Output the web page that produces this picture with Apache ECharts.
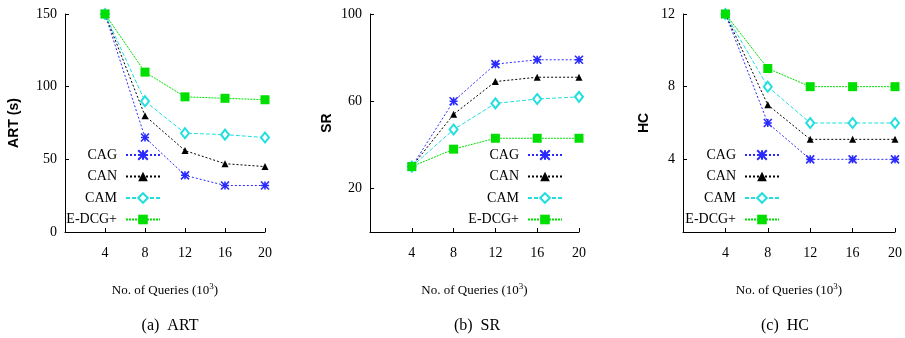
<!DOCTYPE html>
<html>
<head>
<meta charset="utf-8">
<script src="https://cdn.jsdelivr.net/npm/echarts@6/dist/echarts.min.js"></script>
<style>
  html, body { margin: 0; padding: 0; background: #fff; }
  #chart { width: 905px; height: 338px; }
</style>
</head>
<body>
<div id="chart"></div>
<script>
// x values (thousands of queries)
const queries = [4, 8, 12, 16, 20];
const seriesNames = ['CAG', 'CAN', 'CAM', 'E-DCG+'];

// (a) ART (s)
const artCAG = [150, 65, 39, 32, 32];
const artCAN = [150, 80, 56, 47, 45];
const artCAM = [150, 90, 68, 67, 65];
const artEDCG = [150, 110, 93, 92, 91];

// (b) SR
const srCAG = [30, 60, 77, 79, 79];
const srCAN = [30, 54, 69, 71, 71];
const srCAM = [30, 47, 59, 61, 62];
const srEDCG = [30, 38, 43, 43, 43];

// (c) HC
const hcCAG = [12, 6, 4, 4, 4];
const hcCAN = [12, 7, 5.1, 5.1, 5.1];
const hcCAM = [12, 8, 6, 6, 6];
const hcEDCG = [12, 9, 8, 8, 8];

// tick labels
const xTicks = [4, 8, 12, 16, 20];
const artTicks = [0, 50, 100, 150];
const srTicks = [20, 60, 100];
const hcTicks = [4, 8, 12];

const FONT = '"Liberation Serif", "DejaVu Serif", serif';

const styles = {
  'CAG': {
    color: '#2a2aff',
    symbol: 'path://M0 0L10 10M10 0L0 10M5 0L5 10M0 5L10 5',
    symbolSize: 8,
    lineType: [2, 2],
    border: 1.6
  },
  'CAN': { color: '#000000', symbol: 'triangle', symbolSize: 7, lineType: [2, 2], border: 0 },
  'CAM': { color: '#22dede', symbol: 'emptyDiamond', symbolSize: [8, 10], lineType: [4, 2], border: 1 },
  'E-DCG+': { color: '#00e000', symbol: 'rect', symbolSize: 9, lineType: [2, 1], border: 0 }
};

function makeSeries(name, values, idx) {
  const s = styles[name];
  return {
    name: name,
    type: 'line',
    xAxisIndex: idx,
    yAxisIndex: idx,
    data: queries.map((q, i) => [q, values[i]]),
    symbol: s.symbol,
    symbolSize: s.symbolSize,
    showAllSymbol: true,
    lineStyle: { color: s.color, width: 1, type: s.lineType },
    itemStyle: { color: s.color, borderColor: s.color, borderWidth: s.border },
    z: 3
  };
}

const grids = [
  { left: 65, top: 14, width: 200, height: 218 },
  { left: 370, top: 14, width: 209, height: 218 },
  { left: 683, top: 14, width: 216, height: 218 }
];

const xName = '{a|No. of Queries (10}{s|3}{a|)}';
const xNameStyle = {
  rich: {
    a: { fontFamily: FONT, fontSize: 13, color: '#000' },
    s: { fontFamily: FONT, fontSize: 9, color: '#000', verticalAlign: 'top', padding: [0, 0, 8, 0] }
  }
};

function makeXAxis(idx) {
  return {
    type: 'value',
    gridIndex: idx,
    min: 0,
    max: 20,
    interval: 4,
    name: xName,
    nameLocation: 'middle',
    nameGap: 50,
    nameTextStyle: xNameStyle,
    axisLine: { lineStyle: { color: '#000', width: 1 } },
    axisTick: { inside: true, length: 4, customValues: xTicks, lineStyle: { color: '#000' } },
    axisLabel: { customValues: xTicks, margin: 14, fontFamily: FONT, fontSize: 14, color: '#000' },
    splitLine: { show: false }
  };
}

function makeYAxis(idx, name, max, ticks, gap) {
  return {
    type: 'value',
    gridIndex: idx,
    min: 0,
    max: max,
    name: name,
    nameLocation: 'middle',
    nameRotate: 90,
    nameGap: gap,
    nameTextStyle: { fontFamily: '"Liberation Sans", Arial, sans-serif', fontWeight: 'bold', fontSize: 14, color: '#000' },
    axisLine: { show: true, lineStyle: { color: '#000', width: 1 } },
    axisTick: { show: true, inside: true, length: 4, customValues: ticks, lineStyle: { color: '#000' } },
    axisLabel: { customValues: ticks, margin: 8, fontFamily: FONT, fontSize: 14, color: '#000' },
    splitLine: { show: false }
  };
}

function makeLegend(right) {
  return {
    orient: 'vertical',
    right: right,
    top: 148,
    padding: 0,
    align: 'right',
    itemWidth: 34,
    itemHeight: 12,
    itemGap: 7.5,
    selectedMode: false,
    data: seriesNames,
    textStyle: { fontFamily: FONT, fontSize: 14, color: '#000', padding: [0, 4, 0, 0] }
  };
}

const captionStyle = { fontFamily: FONT, fontSize: 16, fontWeight: 'normal', color: '#000' };

const chart = echarts.init(document.getElementById('chart'));
chart.setOption({
  backgroundColor: '#fff',
  animation: false,
  title: [
    { text: '(a)  ART', left: 165, top: 313, textAlign: 'center', textStyle: captionStyle },
    { text: '(b)  SR', left: 472, top: 313, textAlign: 'center', textStyle: captionStyle },
    { text: '(c)  HC', left: 780, top: 313, textAlign: 'center', textStyle: captionStyle }
  ],
  legend: [makeLegend(744), makeLegend(342), makeLegend(125)],
  grid: grids,
  xAxis: [makeXAxis(0), makeXAxis(1), makeXAxis(2)],
  yAxis: [
    makeYAxis(0, 'ART (s)', 150, artTicks, 44),
    makeYAxis(1, 'SR', 100, srTicks, 36),
    makeYAxis(2, 'HC', 12, hcTicks, 32)
  ],
  series: [
    makeSeries('CAG', artCAG, 0),
    makeSeries('CAN', artCAN, 0),
    makeSeries('CAM', artCAM, 0),
    makeSeries('E-DCG+', artEDCG, 0),
    makeSeries('CAG', srCAG, 1),
    makeSeries('CAN', srCAN, 1),
    makeSeries('CAM', srCAM, 1),
    makeSeries('E-DCG+', srEDCG, 1),
    makeSeries('CAG', hcCAG, 2),
    makeSeries('CAN', hcCAN, 2),
    makeSeries('CAM', hcCAM, 2),
    makeSeries('E-DCG+', hcEDCG, 2)
  ]
});
</script>
</body>
</html>
